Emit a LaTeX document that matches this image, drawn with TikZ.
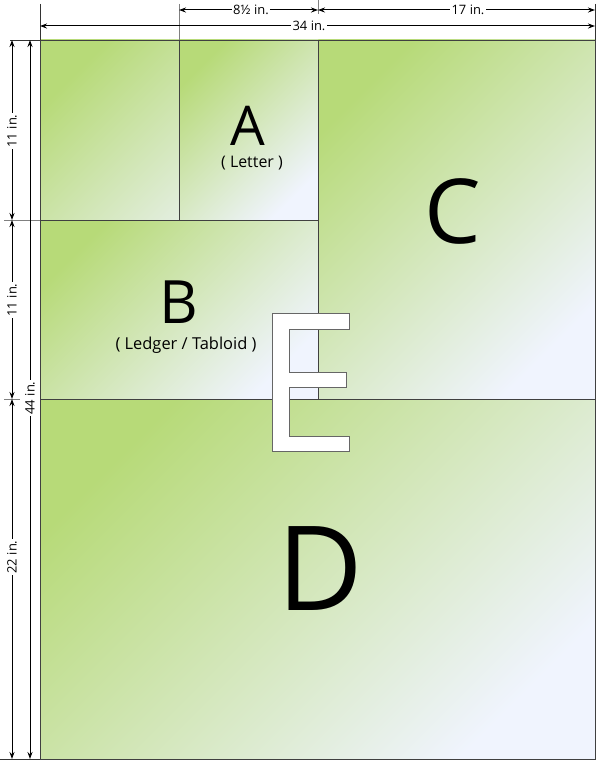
\documentclass[tikz,border=0pt]{standalone}
\usepackage{fontspec}
\setmainfont{Open Sans}
\usetikzlibrary{arrows.meta}
\definecolor{paperG}{HTML}{B7DA78}
\definecolor{paperL}{HTML}{F0F4FE}
\begin{document}
\begin{tikzpicture}[x=1bp,y=-1bp,
  paper/.style={top color=paperG, bottom color=paperL, shading angle=45},
  edge/.style={draw=black!75, line width=0.8bp},
  dimline/.style={line width=1bp, {Stealth[length=7bp,width=5bp]}-{Stealth[length=7bp,width=5bp]}},
  dimlabel/.style={fill=white, inner sep=1.5bp, font=\fontsize{13}{13}\selectfont},
  extdark/.style={draw=black!80, line width=0.8bp},
  extgray/.style={draw=gray, line width=0.8bp},
  eglyph/.style={fill=white, draw=gray!80!black, line width=1bp}]
\useasboundingbox (0,0) rectangle (616,761);
\fill[white] (0,0) rectangle (616,761);
% papers
\shade[paper] (40,399) rectangle (595,759);
\shade[paper] (318,40) rectangle (595,399);
\shade[paper] (40,220) rectangle (318,399);
\shade[paper] (40,40) rectangle (318,220);
\shade[paper] (179,40) rectangle (318,220);
\draw[edge] (40,399) rectangle (595,759);
\draw[edge] (318,40) rectangle (595,399);
\draw[edge] (40,220) rectangle (318,399);
\draw[edge] (40,40) rectangle (318,220);
\draw[edge] (179,40) rectangle (318,220);
% E glyph
\draw[eglyph] (272,313) -- (349,313) -- (349,329) -- (289,329) -- (289,372) -- (346,372) -- (346,387) -- (289,387) -- (289,436) -- (349,436) -- (349,451) -- (272,451) -- cycle;
% letters
\node[anchor=base, inner sep=0] (A) at (248,145) {\fontsize{55}{55}\selectfont A};
\node[anchor=base, inner sep=0] (Al) at (252,167) {\fontsize{16}{16}\selectfont ( Letter )};
\node[anchor=base, inner sep=0] (B) at (179,323) {\fontsize{60}{60}\selectfont B};
\node[anchor=base, inner sep=0] (Bl) at (186,349) {\fontsize{16.5}{16.5}\selectfont ( Ledger / Tabloid )};
\node[anchor=base, inner sep=0] (C) at (453,243) {\fontsize{90}{90}\selectfont C};
\node[anchor=base, inner sep=0] (D) at (320,610) {\fontsize{118}{118}\selectfont D};
% extension lines
\draw[extdark] (40,4) -- (40,40);
\draw[extgray] (179,4) -- (179,40);
\draw[extgray] (318,0) -- (318,14);
\draw[extdark] (595,4) -- (595,40);
\draw[extdark] (10,40) -- (40,40);
\draw[extgray] (4,220) -- (40,220);
\draw[extgray] (4,399) -- (20,399);
\draw[extdark] (0,759) -- (40,759);
% dimension lines
\coordinate (t1) at (179,10); \coordinate (t2) at (318,10); \coordinate (t3) at (595,10);
\coordinate (w1) at (40,26); \coordinate (w2) at (595,26);
\coordinate (l1) at (12,40); \coordinate (l2) at (12,220); \coordinate (l3) at (12,399); \coordinate (l4) at (12,759);
\coordinate (h1) at (30,40); \coordinate (h2) at (30,759);
\draw[dimline] (t1) -- (t2);
\draw[dimline] (t2) -- (t3);
\draw[dimline] (w1) -- (w2);
\draw[dimline] (l1) -- (l2);
\draw[dimline] (l2) -- (l3);
\draw[dimline] (l3) -- (l4);
\draw[dimline] (h1) -- (h2);
\node[dimlabel] (d85) at (251,10) {8½ in.};
\node[dimlabel] (d17) at (468,10) {17 in.};
\node[dimlabel] (d34) at (309,26) {34 in.};
\node[dimlabel, rotate=90] (d11a) at (12,131) {11 in.};
\node[dimlabel, rotate=90] (d11b) at (12,300) {11 in.};
\node[dimlabel, rotate=90] (d22) at (12,557) {22 in.};
\node[dimlabel, rotate=90] (d44) at (30,398) {44 in.};
\end{tikzpicture}
\end{document}
